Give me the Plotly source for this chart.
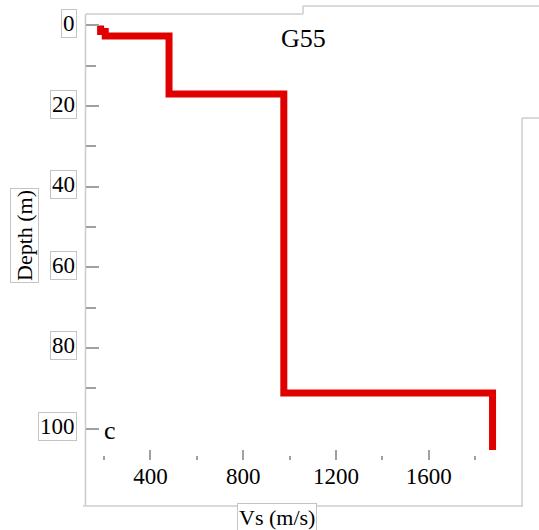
import plotly.graph_objects as go

# ---- data ----
layer_top = [0.0, 1.5, 2.6, 17.0, 91.2]
layer_bottom = [1.5, 2.6, 17.0, 91.2, 105.3]
vs_values = [185, 205, 480, 975, 1875]

x_tick_vals = [400, 800, 1200, 1600]
x_tick_text = ["400", "800", "1200", "1600"]
x_minor_vals = [200, 600, 1000, 1400, 1800]
y_tick_vals = [0, 20, 40, 60, 80, 100]
y_tick_text = ["0", "20", "40", "60", "80", "100"]
y_minor_vals = [10, 30, 50, 70, 90]

site_label = "G55"
panel_label = "c"
x_title = "Vs (m/s)"
y_title = "Depth (m)"

# build step profile
xs, ys = [], []
for t, b, v in zip(layer_top, layer_bottom, vs_values):
    xs += [v, v]
    ys += [t, b]

W, H = 539, 530
ML, MR, MT, MB = 86, 17, 14, 70
PW, PH = W - ML - MR, H - MT - MB

def px(xp):
    return (xp - ML) / PW

def py(yp):
    return (H - MB - yp) / PH

FONT = "Liberation Serif"
FRAME = "#cccccc"
TICK = "#a0a0a0"

fig = go.Figure()
fig.add_trace(go.Scatter(
    x=xs, y=ys, mode="lines",
    line=dict(color="#e10000", width=7),
    showlegend=False, hoverinfo="skip",
))

fig.update_layout(
    width=W, height=H,
    margin=dict(l=ML, r=MR, t=MT, b=MB),
    paper_bgcolor="white", plot_bgcolor="white",
    font=dict(family=FONT, size=23, color="black"),
    showlegend=False,
)

fig.update_xaxes(
    range=[122, 2002],
    tickmode="array", tickvals=x_tick_vals, ticktext=x_tick_text,
    ticks="inside", ticklen=10, tickwidth=1.5, tickcolor=TICK,
    tickfont=dict(family=FONT, size=23, color="black"),
    minor=dict(tickvals=x_minor_vals, ticks="inside", ticklen=4,
               tickwidth=1.5, tickcolor=TICK, showgrid=False),
    showgrid=False, zeroline=False, showline=False,
)

fig.update_yaxes(
    range=[107.8, -2.85],
    tickmode="array", tickvals=y_tick_vals,
    showticklabels=False,
    ticks="inside", ticklen=13, tickwidth=1.5, tickcolor=TICK,
    minor=dict(tickvals=y_minor_vals, ticks="inside", ticklen=10,
               tickwidth=1.5, tickcolor=TICK, showgrid=False),
    showgrid=False, zeroline=False, showline=False,
)

# composite frame lines (paper coords)
frame_segments = [
    ((85.5, 14), (85.5, 506)),
    ((86, 14), (303, 14)),
    ((303, 14), (303, 6)),
    ((303, 6), (539, 6)),
    ((522, 118), (522, 506)),
    ((522, 118), (539, 118)),
    ((83, 506), (523, 506)),
]
for (x0, y0), (x1, y1) in frame_segments:
    fig.add_shape(type="line", xref="paper", yref="paper",
                  x0=px(x0), y0=py(y0), x1=px(x1), y1=py(y1),
                  line=dict(color=FRAME, width=1.5), layer="below")

box = dict(bordercolor="#c4c4c4", borderwidth=1, borderpad=1, bgcolor="white")

# y tick labels (boxed)
for v, t in zip(y_tick_vals, y_tick_text):
    fig.add_annotation(x=px(77), xref="paper", y=v, yref="y", text=t,
                       showarrow=False, xanchor="right", yanchor="middle",
                       yshift=2, font=dict(family=FONT, size=23, color="black"),
                       **box)

common = dict(xref="paper", yref="paper", showarrow=False,
              xanchor="center", yanchor="middle")
fig.add_annotation(x=px(24), y=py(236), text=y_title, textangle=-90,
                   font=dict(family=FONT, size=22, color="black"), **box, **common)
fig.add_annotation(x=px(277), y=py(517), text=x_title,
                   font=dict(family=FONT, size=22, color="black"), **box, **common)
fig.add_annotation(x=px(303), y=py(38), text=site_label,
                   font=dict(family=FONT, size=26, color="black"), **common)
fig.add_annotation(x=px(110), y=py(430), text=panel_label,
                   font=dict(family=FONT, size=26, color="black"), **common)

fig.write_html("out.html",
               config={"displayModeBar": False},
               post_script="document.body.style.margin='0';"
                           "document.body.style.overflow='hidden';")
